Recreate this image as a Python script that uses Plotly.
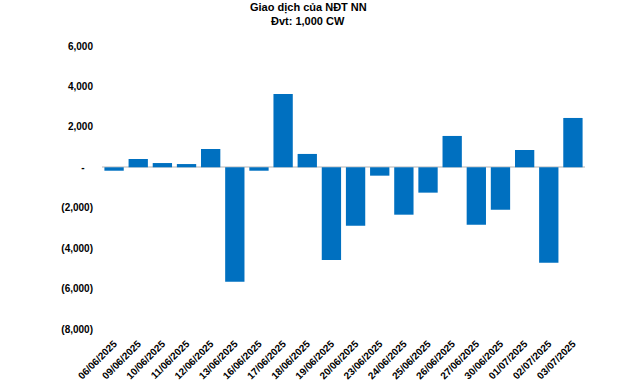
import plotly.graph_objects as go

dates = ["06/06/2025", "09/06/2025", "10/06/2025", "11/06/2025", "12/06/2025",
         "13/06/2025", "16/06/2025", "17/06/2025", "18/06/2025", "19/06/2025",
         "20/06/2025", "23/06/2025", "24/06/2025", "25/06/2025", "26/06/2025",
         "27/06/2025", "30/06/2025", "01/07/2025", "02/07/2025", "03/07/2025"]
values = [-170, 410, 210, 160, 905,
          -5660, -170, 3630, 660, -4590,
          -2890, -415, -2345, -1255, 1550,
          -2840, -2100, 855, -4720, 2440]

y_tickvals = [6000, 4000, 2000, 0, -2000, -4000, -6000, -8000]
y_ticktext = ["6,000", "4,000", "2,000", "-\u00a0\u00a0\u00a0", "(2,000)", "(4,000)", "(6,000)", "(8,000)"]

title_lines = ["Giao dịch của NĐT NN", "Đvt: 1,000 CW"]

font_family = "Liberation Sans, Arial, sans-serif"

fig = go.Figure(go.Bar(x=dates, y=values, marker_color="#0070C0",
                       marker_line_width=0))

fig.update_layout(
    width=640, height=383,
    margin=dict(l=102, r=55, t=46, b=54),
    paper_bgcolor="white", plot_bgcolor="white",
    bargap=0.2,
    showlegend=False,
    font=dict(family=font_family, size=10, color="black"),
)

for i, line in enumerate(title_lines):
    fig.add_annotation(text="<b>%s</b>" % line, xref="paper", yref="paper",
                       x=(308 - 102) / 483, y=(329 - (8 + 13 * i)) / 283,
                       xanchor="center", yanchor="middle", showarrow=False,
                       font=dict(family=font_family, size=11, color="black"))

fig.update_xaxes(type="category", tickangle=-45, showgrid=False, showline=False,
                 zeroline=False, ticks="", automargin=False, ticklabelstandoff=6,
                 tickfont=dict(family=font_family, size=10, color="black", weight="bold"))
fig.update_yaxes(range=[-8000, 6000], tickvals=y_tickvals, ticktext=y_ticktext,
                 showgrid=False, showline=False, zeroline=True, zerolinecolor="#D9D9D9",
                 zerolinewidth=1.5, ticks="", automargin=False, ticklabelstandoff=8,
                 tickfont=dict(family=font_family, size=10, color="black", weight="bold"))

fig.write_html("out.html", config={"displayModeBar": False},
               post_script="document.body.style.margin='0';document.body.style.overflow='hidden';")
